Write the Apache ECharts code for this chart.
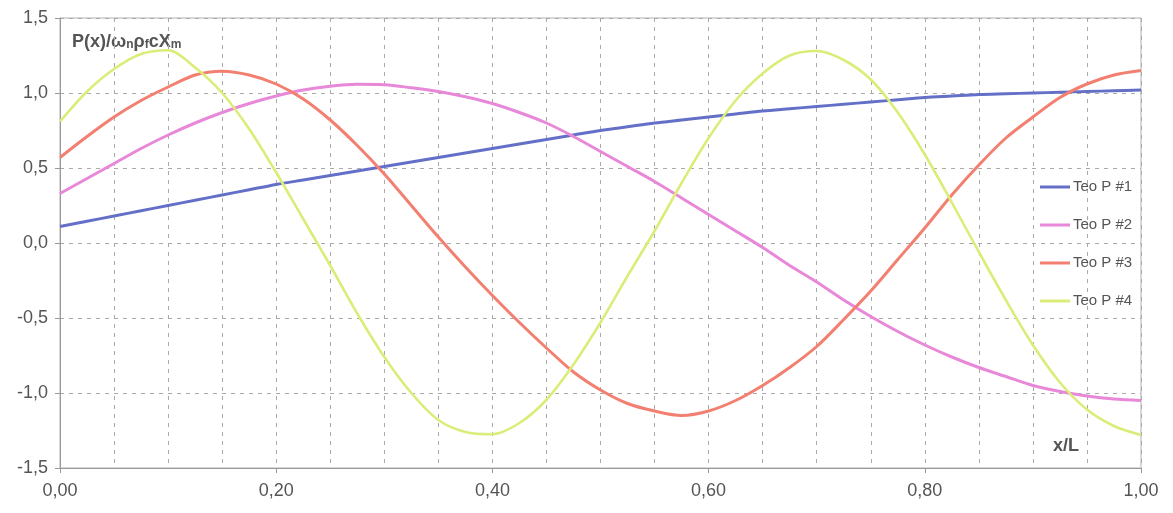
<!DOCTYPE html>
<html>
<head>
<meta charset="utf-8">
<script src="https://cdn.jsdelivr.net/npm/echarts@6/dist/echarts.min.js"></script>
<style>
html,body{margin:0;padding:0;background:#fff;}
#c{width:1173px;height:513px;}
</style>
</head>
<body>
<div id="c"></div>
<script>
const xValues = [0, 0.025, 0.05, 0.075, 0.10, 0.125, 0.15, 0.175, 0.20, 0.225, 0.25, 0.275, 0.30, 0.325, 0.35, 0.375, 0.40, 0.425, 0.45, 0.475, 0.50,
  0.525, 0.55, 0.575, 0.60, 0.625, 0.65, 0.675, 0.70, 0.725, 0.75, 0.775, 0.80, 0.825, 0.85, 0.875, 0.90, 0.925, 0.95, 0.975, 1.00];
const teoP1 = [0.11, 0.145, 0.18, 0.215, 0.25, 0.285, 0.32, 0.355, 0.39, 0.42, 0.45, 0.48, 0.51, 0.54, 0.57, 0.60, 0.63, 0.66, 0.69, 0.72, 0.75,
  0.775, 0.80, 0.82, 0.84, 0.86, 0.88, 0.895, 0.91, 0.925, 0.94, 0.955, 0.97, 0.98, 0.99, 0.995, 1.00, 1.005, 1.01, 1.015, 1.02];
const teoP2 = [0.33, 0.43, 0.53, 0.63, 0.72, 0.80, 0.87, 0.93, 0.98, 1.02, 1.045, 1.058, 1.055, 1.035, 1.01, 0.975, 0.93, 0.87, 0.80, 0.71, 0.61,
  0.51, 0.41, 0.30, 0.19, 0.08, -0.03, -0.15, -0.26, -0.38, -0.49, -0.59, -0.68, -0.76, -0.83, -0.89, -0.95, -0.99, -1.02, -1.04, -1.05];
const teoP3 = [0.57, 0.71, 0.84, 0.95, 1.04, 1.12, 1.145, 1.12, 1.06, 0.96, 0.82, 0.65, 0.46, 0.25, 0.04, -0.16, -0.35, -0.53, -0.70, -0.86, -0.98,
  -1.07, -1.12, -1.15, -1.12, -1.05, -0.95, -0.83, -0.69, -0.51, -0.32, -0.11, 0.10, 0.32, 0.52, 0.70, 0.84, 0.97, 1.06, 1.12, 1.15];
const teoP4 = [0.81, 1.01, 1.16, 1.26, 1.285, 1.17, 1.00, 0.76, 0.47, 0.16, -0.15, -0.47, -0.76, -1.00, -1.18, -1.26, -1.275, -1.20, -1.045, -0.81, -0.53,
  -0.22, 0.08, 0.40, 0.70, 0.95, 1.13, 1.25, 1.28, 1.22, 1.09, 0.87, 0.59, 0.27, -0.06, -0.38, -0.68, -0.93, -1.11, -1.22, -1.28];
const seriesNames = ['Teo P #1', 'Teo P #2', 'Teo P #3', 'Teo P #4'];
const seriesColors = ['#6470c8', '#e888d8', '#f27f70', '#dcec78'];
const yTicks = [-1.5, -1.0, -0.5, 0, 0.5, 1.0, 1.5];

const allSeries = [teoP1, teoP2, teoP3, teoP4];
const fmtComma = (v, d) => v.toFixed(d).replace('.', ',');

const chart = echarts.init(document.getElementById('c'), null, {renderer: 'canvas'});
const labelColor = '#555';
const font = 'Liberation Sans, Arial, sans-serif';

chart.setOption({
  animation: false,
  backgroundColor: '#fff',
  grid: {left: 60, right: 32, top: 18, bottom: 45, show: true, borderColor: '#b0b0b0', borderWidth: 1},
  legend: {
    orient: 'vertical', left: 1040, top: 179, padding: 0, itemWidth: 30, itemHeight: 3, itemGap: 22, icon: 'rect',
    textStyle: {color: labelColor, fontSize: 15, fontFamily: font, lineHeight: 16, padding: [0, 0, 0, -2]},
    data: seriesNames
  },
  xAxis: [{
    type: 'value', min: 0, max: 1, interval: 0.2, position: 'bottom',
    axisLine: {show: true, onZero: false, lineStyle: {color: '#999', width: 1}},
    axisTick: {show: true, length: 5, lineStyle: {color: '#999'}},
    axisLabel: {color: labelColor, fontSize: 18, fontFamily: font, margin: 14, formatter: v => fmtComma(v, 2)},
    splitLine: {show: false}
  }, {
    type: 'value', min: 0, max: 1, interval: 0.05, position: 'top',
    axisLine: {show: false}, axisTick: {show: false}, axisLabel: {show: false},
    splitLine: {show: true, lineStyle: {color: '#aaa', type: [4, 5], width: 1}}
  }],
  yAxis: {
    type: 'value', min: yTicks[0], max: yTicks[yTicks.length - 1], interval: 0.5,
    axisLine: {show: true, onZero: false, lineStyle: {color: '#999', width: 1}},
    axisTick: {show: true, length: 5, lineStyle: {color: '#999'}},
    axisLabel: {color: labelColor, fontSize: 18, fontFamily: font, margin: 12, formatter: v => fmtComma(v, 1)},
    splitLine: {show: true, lineStyle: {color: '#aaa', type: [4, 5], width: 1}}
  },
  series: allSeries.map((arr, i) => ({
    name: seriesNames[i], type: 'line', xAxisIndex: 0, smooth: 0.3, symbol: 'none',
    data: xValues.map((x, j) => [x, arr[j]]),
    lineStyle: {color: seriesColors[i], width: i === 3 ? 2.6 : 3},
    itemStyle: {color: seriesColors[i]}
  })),
  graphic: [{
    type: 'text', left: 72, top: 32,
    style: {
      text: '{a|P(x)/ω}{s|n}{a|ρ}{s|f}{a|cX}{s|m}',
      rich: {
        a: {fontSize: 18, fontWeight: 'bold', fill: '#555', fontFamily: font, lineHeight: 22, verticalAlign: 'bottom'},
        s: {fontSize: 12, fontWeight: 'bold', fill: '#555', fontFamily: font, lineHeight: 22, verticalAlign: 'bottom', padding: [7, 0, 0, 0]}
      }
    }
  }, {
    type: 'text', left: 1053, top: 437,
    style: {text: 'x/L', fontSize: 18, fontWeight: 'bold', fill: '#555', fontFamily: font}
  }]
});
</script>
</body>
</html>
